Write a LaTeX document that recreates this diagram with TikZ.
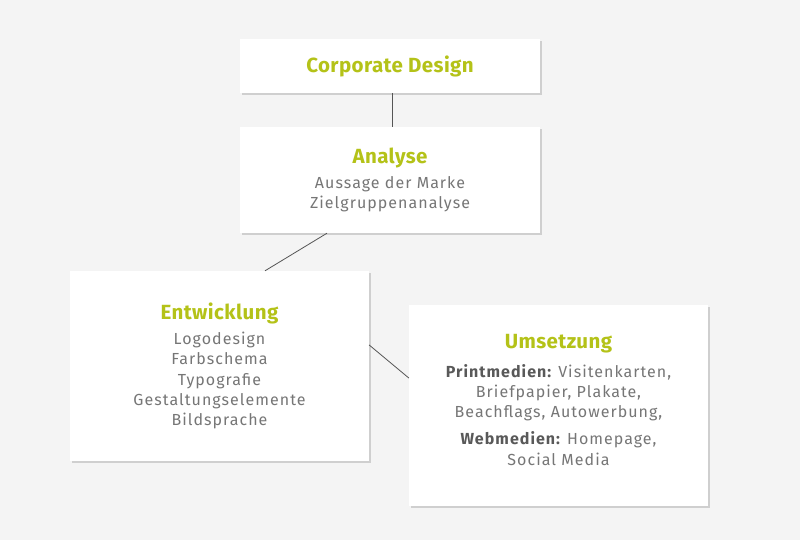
\documentclass[tikz,border=0pt]{standalone}
\usepackage{fontspec}
\setmainfont{Fira Sans}
\newfontfamily\bodyfont[LetterSpace=6.5]{Fira Sans}
\newfontfamily\titlefont[LetterSpace=2]{Fira Sans}
\usetikzlibrary{shadows}
\definecolor{bggray}{HTML}{F4F4F4}
\definecolor{titlegreen}{HTML}{B4C218}
\definecolor{bodygray}{HTML}{767676}
\definecolor{boldgray}{HTML}{595959}
\definecolor{linegray}{HTML}{555555}
\newcommand{\boxtitle}[1]{{\titlefont\fontsize{20.5}{22}\selectfont\bfseries\color{titlegreen}#1}}
\begin{document}
\begin{tikzpicture}[x=1pt, y=-1pt,
  card/.style={fill=white, draw=none, inner sep=0pt, align=center,
    text=bodygray, font=\bodyfont\fontsize{16}{20.3}\selectfont,
    drop shadow={shadow xshift=1.5pt, shadow yshift=-2pt, opacity=0.15, fill=black}},
  link/.style={draw=linegray, line width=0.8pt}]
\fill[bggray] (0,0) rectangle (800,540);

% boxes
\node[card, minimum width=300pt, minimum height=54pt] (corp) at (390,66)
  {\boxtitle{Corporate Design}};
\node[card, minimum width=300pt, minimum height=106pt] (ana) at (390,180)
  {\boxtitle{Analyse}\\[5pt]
   Aussage der Marke\\Zielgruppenanalyse};
\node[card, minimum width=299pt, minimum height=190pt] (entw) at (219.5,366)
  {\boxtitle{Entwicklung}\\[5pt]
   Logodesign\\Farbschema\\Typografie\\Gestaltungselemente\\Bildsprache};
\node[card, minimum width=299pt, minimum height=201pt] (ums) at (558.5,405.5)
  {\boxtitle{Umsetzung}\\[8pt]
   {\bfseries\color{boldgray}Printmedien:} Visitenkarten,\\
   Briefpapier, Plakate,\\
   Beachflags, Autowerbung,\\[7pt]
   {\bfseries\color{boldgray}Webmedien:} Homepage,\\
   Social Media\\[-9pt]};

% connectors
\draw[link] (corp.south -| 392,0) -- (ana.north -| 392,0);
\draw[link] (ana.south -| 327,0) -- (entw.north -| 265,0);
\draw[link] (entw.east |- 0,345) -- (ums.west |- 0,378);
\end{tikzpicture}
\end{document}
